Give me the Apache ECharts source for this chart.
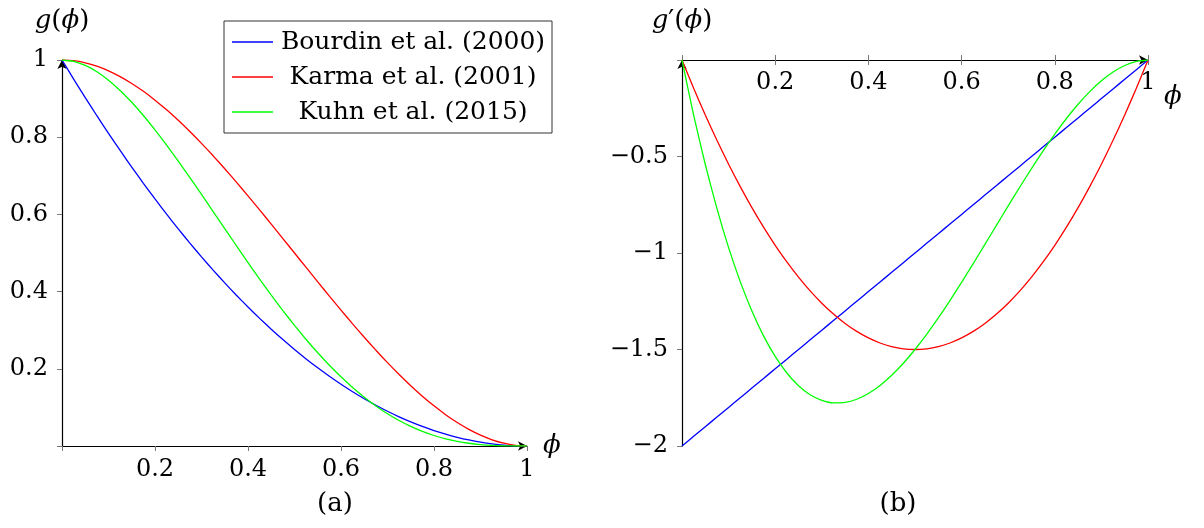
<!DOCTYPE html>
<html>
<head>
<meta charset="utf-8">
<script src="https://cdn.jsdelivr.net/npm/echarts@6/dist/echarts.min.js"></script>
<style>
  html, body { margin: 0; padding: 0; background: #fff; }
  #main { width: 1204px; height: 528px; }
</style>
</head>
<body>
<div id="main"></div>
<script>
// 横轴取样点 phi（步长 0.025）
var phi = [0, 0.025, 0.05, 0.075, 0.1, 0.125, 0.15, 0.175, 0.2, 0.225, 0.25,
           0.275, 0.3, 0.325, 0.35, 0.375, 0.4, 0.425, 0.45, 0.475, 0.5,
           0.525, 0.55, 0.575, 0.6, 0.625, 0.65, 0.675, 0.7, 0.725, 0.75,
           0.775, 0.8, 0.825, 0.85, 0.875, 0.9, 0.925, 0.95, 0.975, 1];

// (a) g(phi)
var gBourdin = [1, 0.950625, 0.9025, 0.855625, 0.81, 0.765625, 0.7225, 0.680625, 0.64, 0.600625, 0.5625,
                0.525625, 0.49, 0.455625, 0.4225, 0.390625, 0.36, 0.330625, 0.3025, 0.275625, 0.25,
                0.225625, 0.2025, 0.180625, 0.16, 0.140625, 0.1225, 0.105625, 0.09, 0.075625, 0.0625,
                0.050625, 0.04, 0.030625, 0.0225, 0.015625, 0.01, 0.005625, 0.0025, 0.000625, 0];
var gKarma = [1, 0.99816, 0.99275, 0.98397, 0.972, 0.95703, 0.93925, 0.91884, 0.896, 0.87091, 0.84375,
              0.81472, 0.784, 0.75178, 0.71825, 0.68359, 0.648, 0.61166, 0.57475, 0.53747, 0.5,
              0.46253, 0.42525, 0.38834, 0.352, 0.31641, 0.28175, 0.24822, 0.216, 0.18528, 0.15625,
              0.12909, 0.104, 0.08116, 0.06075, 0.04297, 0.028, 0.01603, 0.00725, 0.00184, 0];
var gKuhn = [1, 0.99637, 0.98598, 0.96953, 0.9477, 0.92114, 0.89048, 0.85631, 0.8192, 0.77969, 0.73828,
             0.69547, 0.6517, 0.60741, 0.56298, 0.5188, 0.4752, 0.4325, 0.39098, 0.35091, 0.3125,
             0.27597, 0.24148, 0.20919, 0.1792, 0.15161, 0.12648, 0.10384, 0.0837, 0.06603, 0.05078,
             0.03787, 0.0272, 0.01862, 0.01198, 0.00708, 0.0037, 0.00159, 0.00048, 0.00006, 0];

// (b) g'(phi)
var dBourdin = [-2, -1.95, -1.9, -1.85, -1.8, -1.75, -1.7, -1.65, -1.6, -1.55, -1.5,
                -1.45, -1.4, -1.35, -1.3, -1.25, -1.2, -1.15, -1.1, -1.05, -1,
                -0.95, -0.9, -0.85, -0.8, -0.75, -0.7, -0.65, -0.6, -0.55, -0.5,
                -0.45, -0.4, -0.35, -0.3, -0.25, -0.2, -0.15, -0.1, -0.05, 0];
var dKarma = [0, -0.14625, -0.285, -0.41625, -0.54, -0.65625, -0.765, -0.86625, -0.96, -1.04625, -1.125,
              -1.19625, -1.26, -1.31625, -1.365, -1.40625, -1.44, -1.46625, -1.485, -1.49625, -1.5,
              -1.49625, -1.485, -1.46625, -1.44, -1.40625, -1.365, -1.31625, -1.26, -1.19625, -1.125,
              -1.04625, -0.96, -0.86625, -0.765, -0.65625, -0.54, -0.41625, -0.285, -0.14625, 0];
var dKuhn = [0, -0.28519, -0.5415, -0.77006, -0.972, -1.14844, -1.3005, -1.42931, -1.536, -1.62169, -1.6875,
             -1.73456, -1.764, -1.77694, -1.7745, -1.75781, -1.728, -1.68619, -1.6335, -1.57106, -1.5,
             -1.42144, -1.3365, -1.24631, -1.152, -1.05469, -0.9555, -0.85556, -0.756, -0.65794, -0.5625,
             -0.47081, -0.384, -0.30319, -0.2295, -0.16406, -0.108, -0.06244, -0.0285, -0.00731, 0];

var names = ['Bourdin et al. (2000)', 'Karma et al. (2001)', 'Kuhn et al. (2015)'];
var colors = ['#0000ff', '#ff0000', '#00ff00'];

var FONT = 'DejaVu Serif';
var TICK_SIZE = 24;

function pairs(ys) {
    return phi.map(function (x, i) { return [x, ys[i]]; });
}

function tickLabel(v) {
    if (v === 0) return '';
    var s = String(Math.round(v * 100) / 100);
    return s.replace('-', '\u2212');
}

var mathRich = {
    i: { fontFamily: FONT, fontStyle: 'italic', fontSize: 26, color: '#000' },
    u: { fontFamily: FONT, fontSize: 26, color: '#000' }
};

// 主轴：轴线 + 外侧刻度 + 标签
function mainAxis(extra) {
    var a = {
        type: 'value',
        axisLine: {
            show: true,
            lineStyle: { color: '#000', width: 1.2 },
            symbol: ['none', 'arrow'],
            symbolSize: [7, 9]
        },
        axisTick: { show: true, length: 5, lineStyle: { color: '#777', width: 1 } },
        splitLine: { show: false }
    };
    for (var k in extra) a[k] = extra[k];
    return a;
}

// 内侧刻度（只画刻度，让刻度跨在轴线两侧）
function innerTicks(extra) {
    var a = {
        type: 'value',
        axisLine: { show: false },
        axisTick: { show: true, inside: true, length: 5, lineStyle: { color: '#777', width: 1 } },
        axisLabel: { show: false },
        splitLine: { show: false }
    };
    for (var k in extra) a[k] = extra[k];
    return a;
}

var myChart = echarts.init(document.getElementById('main'));

var series = [];
[gBourdin, gKarma, gKuhn].forEach(function (ys, i) {
    series.push({
        name: names[i], type: 'line', xAxisIndex: 0, yAxisIndex: 0,
        data: pairs(ys), smooth: 0.2, showSymbol: false,
        lineStyle: { color: colors[i], width: 1.3 }, itemStyle: { color: colors[i] }
    });
});
[dBourdin, dKarma, dKuhn].forEach(function (ys, i) {
    series.push({
        name: names[i], type: 'line', xAxisIndex: 2, yAxisIndex: 2,
        data: pairs(ys), smooth: 0.2, showSymbol: false,
        lineStyle: { color: colors[i], width: 1.3 }, itemStyle: { color: colors[i] }
    });
});

var nameStyle = { rich: mathRich, fontFamily: FONT, fontSize: 26, color: '#000' };

option = {
    animation: false,
    backgroundColor: '#fff',
    textStyle: { fontFamily: FONT },
    title: [
        { text: '(a)', left: 330, top: 486, textAlign: 'center',
          textStyle: { fontFamily: FONT, fontWeight: 'normal', fontSize: 26, color: '#000' } },
        { text: '(b)', left: 893, top: 486, textAlign: 'center',
          textStyle: { fontFamily: FONT, fontWeight: 'normal', fontSize: 26, color: '#000' } }
    ],
    legend: {
        data: names,
        orient: 'vertical',
        left: 224,
        top: 21,
        padding: [6, 4, 6, 8],
        itemGap: 5,
        itemWidth: 41,
        itemHeight: 1.5,
        icon: 'rect',
        backgroundColor: '#fff',
        borderColor: '#333',
        borderWidth: 1,
        borderRadius: 0,
        formatter: function (name) { return '{c|' + name + '}'; },
        textStyle: {
            fontFamily: FONT, fontSize: 25, color: '#000', lineHeight: 30,
            rich: { c: { width: 270, align: 'center', fontFamily: FONT, fontSize: 25, lineHeight: 30 } }
        }
    },
    grid: [
        { left: 62, top: 60, width: 465, height: 386 },
        { left: 682, top: 60, width: 466, height: 386 }
    ],
    xAxis: [
        mainAxis({
            gridIndex: 0, min: 0, max: 1, interval: 0.2,
            name: '{i|\u03D5}', nameLocation: 'end', nameGap: 16,
            nameTextStyle: nameStyle,
            axisLabel: { fontFamily: FONT, fontSize: TICK_SIZE, color: '#000', margin: 12, formatter: tickLabel }
        }),
        innerTicks({ gridIndex: 0, min: 0, max: 1, interval: 0.2 }),
        mainAxis({
            gridIndex: 1, min: 0, max: 1, interval: 0.2, position: 'top',
            name: '{i|\u03D5}', nameLocation: 'end', nameGap: 16,
            nameTextStyle: { rich: mathRich, fontFamily: FONT, fontSize: 26, color: '#000',
                             verticalAlign: 'top', padding: [24, 0, 0, 0] },
            axisLabel: { inside: true, fontFamily: FONT, fontSize: TICK_SIZE, color: '#000', margin: 11, formatter: tickLabel }
        }),
        innerTicks({ gridIndex: 1, min: 0, max: 1, interval: 0.2, position: 'top' })
    ],
    yAxis: [
        mainAxis({
            gridIndex: 0, min: 0, max: 1, interval: 0.2,
            name: '{i|g}{u|(}{i|\u03D5}{u|)}', nameLocation: 'end', nameGap: 26,
            nameTextStyle: { rich: mathRich, fontFamily: FONT, fontSize: 26, color: '#000', align: 'center' },
            axisLabel: { fontFamily: FONT, fontSize: TICK_SIZE, color: '#000', margin: 14, formatter: tickLabel }
        }),
        innerTicks({ gridIndex: 0, min: 0, max: 1, interval: 0.2 }),
        mainAxis({
            gridIndex: 1, min: -2, max: 0, interval: 0.5,
            name: '{i|g}{u|\u2032(}{i|\u03D5}{u|)}', nameLocation: 'end', nameGap: 26,
            nameTextStyle: { rich: mathRich, fontFamily: FONT, fontSize: 26, color: '#000', align: 'center' },
            axisLabel: { fontFamily: FONT, fontSize: TICK_SIZE, color: '#000', margin: 14, formatter: tickLabel }
        }),
        innerTicks({ gridIndex: 1, min: -2, max: 0, interval: 0.5 })
    ],
    series: series
};

myChart.setOption(option);
</script>
</body>
</html>
